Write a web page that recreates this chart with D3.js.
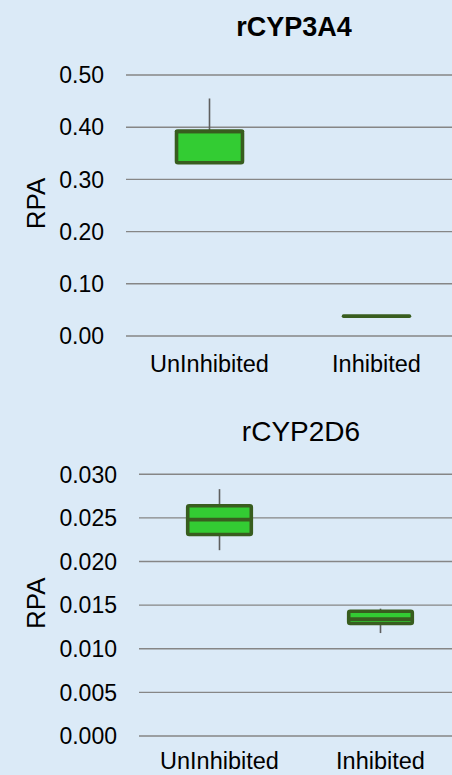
<!DOCTYPE html>
<html>
<head>
<meta charset="utf-8">
<script src="https://cdn.jsdelivr.net/npm/d3@7"></script>
<style>
  html, body { margin: 0; padding: 0; background: #dbeaf7; }
  svg { display: block; }
  text { font-family: "Liberation Sans", Arial, sans-serif; fill: #000; }
</style>
</head>
<body>
<svg id="chart" width="452" height="775"></svg>
<script>
// Sample groups shared by both enzymes
const categories = ["UnInhibited", "Inhibited"];

// rCYP3A4 relative peak area – five-number summaries per group
const cyp3a4Min    = [0.332, 0.038];
const cyp3a4Q1     = [0.332, 0.038];
const cyp3a4Median = [0.392, 0.038];
const cyp3a4Q3     = [0.392, 0.038];
const cyp3a4Max    = [0.455, 0.038];
const cyp3a4Ticks  = [0, 0.1, 0.2, 0.3, 0.4, 0.5];

// rCYP2D6 relative peak area – five-number summaries per group
const cyp2d6Min    = [0.0213, 0.0118];
const cyp2d6Q1     = [0.0231, 0.0129];
const cyp2d6Median = [0.0248, 0.0134];
const cyp2d6Q3     = [0.0264, 0.0143];
const cyp2d6Max    = [0.0283, 0.0146];
const cyp2d6Ticks  = [0, 0.005, 0.010, 0.015, 0.020, 0.025, 0.030];

const svg = d3.select("#chart");
const W = 452;

const colors = {
  grid: "#868686",
  whisker: "#5f5f5f",
  fill: "#33cc33",
  edge: "#385d1f"
};

function panel(cfg) {
  const g = svg.append("g");
  const y = d3.scaleLinear().domain([0, d3.max(cfg.ticks)]).range([cfg.bottom, cfg.top]);
  const x = d3.scaleBand().domain(categories).range([cfg.left, cfg.right]).paddingInner(0).paddingOuter(0);
  const boxW = x.bandwidth() * 0.395;

  // horizontal gridlines
  g.selectAll("line.grid").data(cfg.ticks).join("line")
    .attr("class", "grid")
    .attr("x1", cfg.left).attr("x2", W)
    .attr("y1", d => y(d)).attr("y2", d => y(d))
    .attr("stroke", colors.grid).attr("stroke-width", 1.4);

  // y tick labels
  g.selectAll("text.tick").data(cfg.ticks).join("text")
    .attr("class", "tick")
    .attr("x", cfg.left - 22)
    .attr("y", d => y(d))
    .attr("dy", "0.36em")
    .attr("text-anchor", "end")
    .style("font-size", "23px")
    .text(d => d3.format(cfg.fmt)(d));

  // category labels
  g.selectAll("text.cat").data(categories).join("text")
    .attr("class", "cat")
    .attr("x", d => x(d) + x.bandwidth() / 2)
    .attr("y", cfg.bottom + cfg.catGap)
    .attr("text-anchor", "middle")
    .style("font-size", "23.5px")
    .text(d => d);

  // axis title
  g.append("text")
    .attr("transform", `translate(45,${(cfg.top + cfg.bottom) / 2 - 2}) rotate(-90)`)
    .attr("text-anchor", "middle")
    .style("font-size", "26px")
    .text("RPA");

  // chart title
  g.append("text")
    .attr("x", (cfg.left + cfg.right) / 2 + 1)
    .attr("y", cfg.titleY)
    .attr("text-anchor", "middle")
    .style("font-size", cfg.titleSize)
    .style("font-weight", cfg.bold ? "bold" : "normal")
    .text(cfg.title);

  const rows = categories.map((c, i) => ({
    c, min: cfg.min[i], q1: cfg.q1[i], med: cfg.med[i], q3: cfg.q3[i], max: cfg.max[i]
  }));

  const cx = d => x(d.c) + x.bandwidth() / 2;

  // whiskers
  g.selectAll("line.wTop").data(rows).join("line")
    .attr("x1", cx).attr("x2", cx)
    .attr("y1", d => y(d.q3)).attr("y2", d => y(d.max))
    .attr("stroke", colors.whisker).attr("stroke-width", 1.6);
  g.selectAll("line.wBot").data(rows).join("line")
    .attr("x1", cx).attr("x2", cx)
    .attr("y1", d => y(d.q1)).attr("y2", d => y(d.min))
    .attr("stroke", colors.whisker).attr("stroke-width", 1.6);

  // boxes
  g.selectAll("rect.box").data(rows).join("rect")
    .attr("x", d => cx(d) - boxW / 2)
    .attr("width", boxW)
    .attr("y", d => y(d.q3))
    .attr("height", d => Math.max(0, y(d.q1) - y(d.q3)))
    .attr("rx", 1.5)
    .attr("fill", colors.fill)
    .attr("stroke", colors.edge)
    .attr("stroke-width", 3.6)
    .attr("stroke-linejoin", "round");

  // medians
  g.selectAll("line.med").data(rows).join("line")
    .attr("x1", d => cx(d) - boxW / 2).attr("x2", d => cx(d) + boxW / 2)
    .attr("y1", d => y(d.med)).attr("y2", d => y(d.med))
    .attr("stroke", colors.edge).attr("stroke-width", 3.6)
    .attr("stroke-linecap", "round");
}

panel({
  title: "rCYP3A4", bold: true, titleY: 36, titleSize: "27px",
  top: 75, bottom: 336, left: 126, right: 460, catGap: 36,
  ticks: cyp3a4Ticks, fmt: ".2f",
  min: cyp3a4Min, q1: cyp3a4Q1, med: cyp3a4Median, q3: cyp3a4Q3, max: cyp3a4Max
});

panel({
  title: "rCYP2D6", bold: false, titleY: 440.5, titleSize: "28px",
  top: 474.3, bottom: 736, left: 139, right: 461, catGap: 33,
  ticks: cyp2d6Ticks, fmt: ".3f",
  min: cyp2d6Min, q1: cyp2d6Q1, med: cyp2d6Median, q3: cyp2d6Q3, max: cyp2d6Max
});
</script>
</body>
</html>
